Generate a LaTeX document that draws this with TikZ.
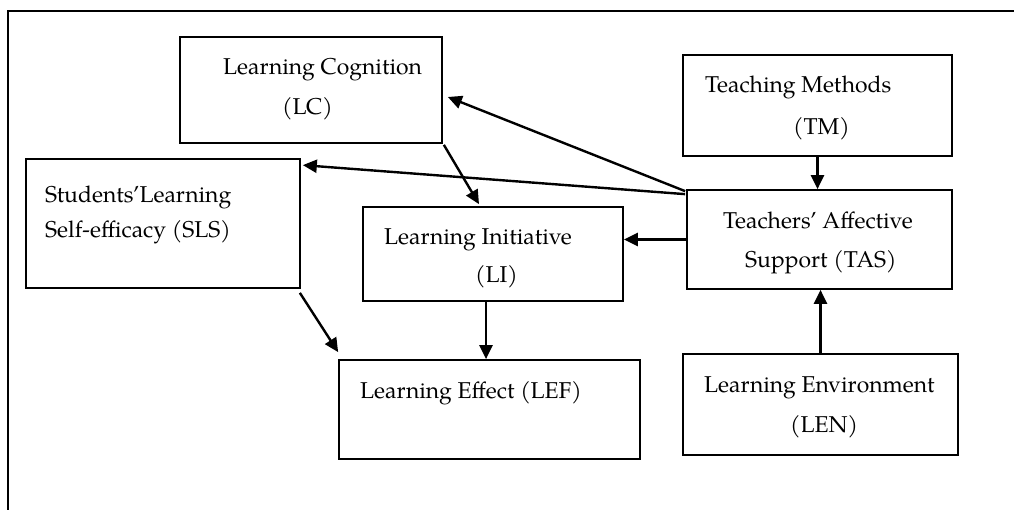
\documentclass[tikz,border=0pt]{standalone}
\usepackage{fontspec}
\setmainfont{texgyrepagella}[Extension=.otf, UprightFont=*-regular, BoldFont=*-bold, ItalicFont=*-italic]
\usetikzlibrary{arrows.meta,calc}
\begin{document}
\begin{tikzpicture}[x=1pt,y=-1pt,
  box/.style={draw, line width=1.7pt, rectangle, inner sep=0pt},
  txt/.style={anchor=base west, inner sep=0pt, font=\fontsize{22.9}{27}\selectfont},
  arr/.style={line width=2.4pt, -{Triangle[length=14pt,width=13pt]}},
  frame/.style={line width=1.5pt}]
\useasboundingbox (0,0) rectangle (1014,510);
% outer frame
\coordinate (fbl) at (8,510);
\coordinate (ftl) at (8,11);
\coordinate (ftr) at (1014,11);
\draw[frame] (fbl) -- (ftl) -- (ftr);
% boxes
\node[box, minimum width=262pt, minimum height=106pt] (lc)  at (311,90) {};
\node[box, minimum width=269pt, minimum height=101pt] (tm)  at (817.5,105.5) {};
\node[box, minimum width=274pt, minimum height=129pt] (sls) at (163,223.5) {};
\node[box, minimum width=260pt, minimum height=94pt]  (li)  at (493,254) {};
\node[box, minimum width=265pt, minimum height=99pt]  (tas) at (819.5,239.5) {};
\node[box, minimum width=301pt, minimum height=99pt]  (lef) at (489.5,409.5) {};
\node[box, minimum width=275pt, minimum height=101pt] (len) at (820.5,404.5) {};
% texts
\node[txt] (lc1) at (223,75) {Learning Cognition};
\node[txt] (lc2) at (282,115) {(LC)};
\node[txt] (tm1) at (705,93) {Teaching Methods};
\node[txt] (tm2) at (793,135) {(TM)};
\node[txt] (sls1) at (45,203) {Students’Learning};
\node[txt] (sls2) at (45,238) {Self-efficacy (SLS)};
\node[txt] (li1) at (384,245) {Learning Initiative};
\node[txt] (li2) at (475,283) {(LI)};
\node[txt] (tas1) at (723,229) {Teachers’ Affective};
\node[txt] (tas2) at (745,268) {Support (TAS)};
\node[txt] (lef1) at (360,398) {Learning Effect (LEF)};
\node[txt] (len1) at (704,392) {Learning Environment};
\node[txt] (len2) at (790,432) {(LEN)};
% connectors
\draw[arr] (tm.south) -- (tm.south |- tas.north);
\draw[arr] (len.north) -- (len.north |- tas.south);
\draw[arr] (tas.west) -- (tas.west -| li.east);
\draw[arr] ([shift={(-1,2)}]tas.north west) -- ([shift={(5,7)}]lc.east);
\draw[arr] ([shift={(-1,5)}]tas.north west) -- ([shift={(2,7)}]sls.north east);
\draw[arr] ([shift={(1,1)}]lc.south east) -- ([shift={(-14,-2)}]li.north);
\draw[arr] ([shift={(-1,4)}]sls.south east) -- ([shift={(0,-7)}]lef.north west);
\draw[arr] ([xshift=-7pt]li.south) -- ([xshift=-7pt]li.south |- lef.north);
\end{tikzpicture}
\end{document}
